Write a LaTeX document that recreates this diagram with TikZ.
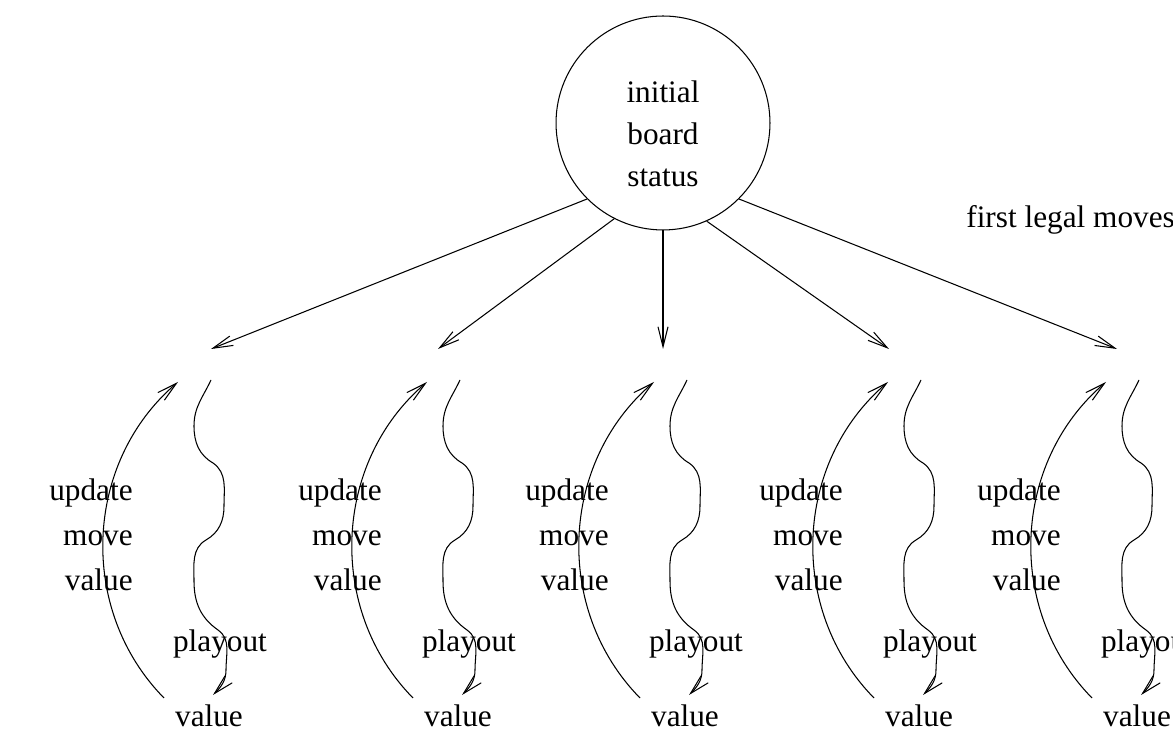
\documentclass[tikz,border=0pt]{standalone}
\usepackage{fontspec}
\setmainfont{Liberation Serif}
\usetikzlibrary{arrows.meta}

\tikzset{
  mc line/.style={line width=0.6pt},
  mc arrow/.style={mc line,-{Straight Barb[length=0.4cm,width=0.2cm]}},
  mc text/.style={inner sep=0pt,font=\fontsize{17.8}{25.5}\selectfont},
}

\begin{document}
\begin{tikzpicture}[x=0.02cm,y=0.02cm]
  \useasboundingbox (0,0) rectangle (1173,746);

  \node[circle,draw,mc line,minimum size=4.28cm,inner sep=0pt] (board) at (663,623) {};
  \node[mc text,align=center,font=\fontsize{17.8}{24}\selectfont] (boardtext) at (663,612)
    {initial\\board\\status};
  \node[mc text,anchor=base west] (legal) at (966,518) {first legal moves};

  % first legal moves
  \foreach \x/\a [count=\i] in {211/-135,438/-117,663/-90,889/-66,1117/-45}
  {
    \coordinate (move\i) at (\x,397);
    \draw[mc arrow] (board.\a) -- (move\i);
  }

  % playout and update under each move
  \foreach \dx [count=\i] in {0,249,476,710,928}
  {
    \begin{scope}[shift={(\dx,0)}]
      \coordinate (low\i) at (164,48);
      \coordinate (up\i) at (178,364);
      \coordinate (top\i) at (211,366);
      \coordinate (end\i) at (213,51);
      \draw[mc arrow] (low\i) to[bend left=47] (up\i);
      \draw[mc arrow] (top\i) to[out=-115,in=90] (194,320) to[out=-90,in=150] (213,283)
        to[out=-35,in=90] (224,240) to[out=-90,in=30] (206,206)
        to[out=-150,in=90] (194,165) to[out=-90,in=145] (218,116)
        to[out=-35,in=90] (226,76) to[out=-90,in=45] (end\i);
      \node[mc text,align=right,anchor=east] (upd\i) at (133,211) {update\\move\\value};
      \node[mc text,anchor=base] (play\i) at (220,94) {playout};
      \node[mc text,anchor=base] (val\i) at (209,19) {value};
    \end{scope}
  }
\end{tikzpicture}
\end{document}
